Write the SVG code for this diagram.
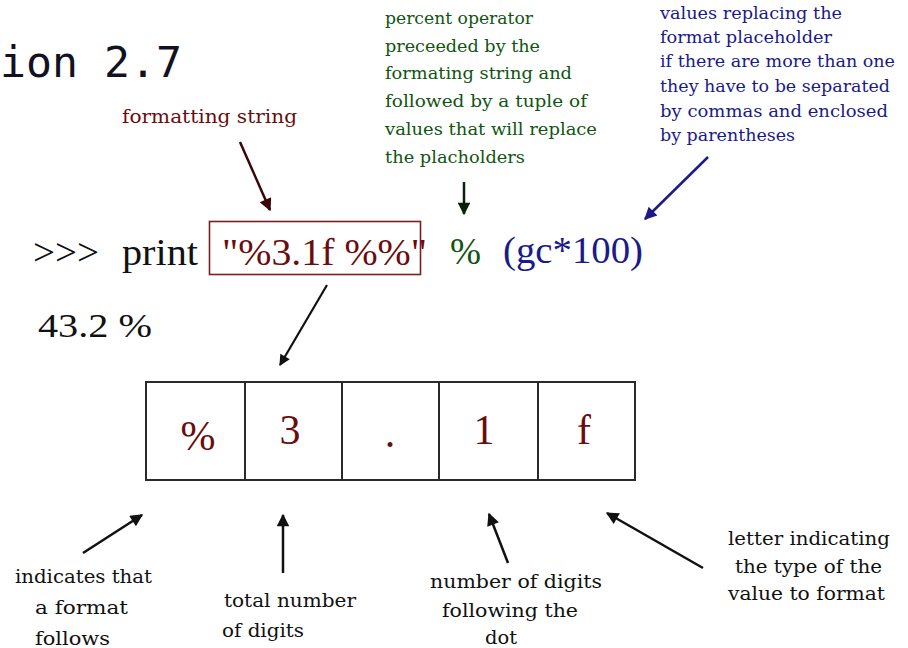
<svg xmlns="http://www.w3.org/2000/svg" width="908" height="648" viewBox="0 0 908 648">
<style>
  text { font-family: "Liberation Serif", "Times New Roman", serif; }
  .mono { font-family: "DejaVu Sans Mono", "Liberation Mono", monospace; font-size: 43px; fill: #111122; }
  .pal { font-family: "DejaVu Serif", "Liberation Serif", serif; }
  .red { fill: #6a0d0d; }
  .green text { fill: #105510; font-size: 17px; font-family: "DejaVu Serif", "Liberation Serif", serif; }
  .blue text { fill: #1a1a88; font-size: 16px; font-family: "DejaVu Serif", "Liberation Serif", serif; }
  .blk { fill: #111111; }
  .lbl text { font-size: 18px; fill: #111111; font-family: "DejaVu Serif", "Liberation Serif", serif; }
  .code { font-size: 38px; }
  .cell { font-size: 42px; fill: #6a0d0d; text-anchor: middle; }
  .ln { stroke-width: 2.5; fill: none; }
</style>
<defs>
  <marker id="ahBlack" viewBox="0 0 10 10" refX="9" refY="5" markerWidth="6" markerHeight="5" orient="auto" markerUnits="strokeWidth">
    <path d="M0,0 L10,5 L0,10 Z" fill="#111111"/>
  </marker>
  <marker id="ahRed" viewBox="0 0 10 10" refX="9" refY="5" markerWidth="6" markerHeight="5" orient="auto" markerUnits="strokeWidth">
    <path d="M0,0 L10,5 L0,10 Z" fill="#3a0505"/>
  </marker>
  <marker id="ahGreen" viewBox="0 0 10 10" refX="9" refY="5" markerWidth="6" markerHeight="5" orient="auto" markerUnits="strokeWidth">
    <path d="M0,0 L10,5 L0,10 Z" fill="#0a200a"/>
  </marker>
  <marker id="ahBlue" viewBox="0 0 10 10" refX="9" refY="5" markerWidth="6" markerHeight="5" orient="auto" markerUnits="strokeWidth">
    <path d="M0,0 L10,5 L0,10 Z" fill="#1a1a88"/>
  </marker>
</defs>
<rect width="908" height="648" fill="#ffffff"/>

<g id="version">
  <text class="mono" x="0" y="77" textLength="182" lengthAdjust="spacingAndGlyphs">ion 2.7</text>
</g>

<g id="label-formatting-string">
  <text class="red pal" x="122" y="123" font-size="18" textLength="175" lengthAdjust="spacingAndGlyphs">formatting string</text>
</g>

<g id="label-percent-operator" class="green">
  <text x="385" y="24" textLength="148" lengthAdjust="spacingAndGlyphs">percent operator</text>
  <text x="385" y="52" textLength="155" lengthAdjust="spacingAndGlyphs">preceeded by the</text>
  <text x="385" y="79" textLength="187" lengthAdjust="spacingAndGlyphs">formating string and</text>
  <text x="385" y="107" textLength="202" lengthAdjust="spacingAndGlyphs">followed by a tuple of</text>
  <text x="385" y="135" textLength="212" lengthAdjust="spacingAndGlyphs">values that will replace</text>
  <text x="385" y="163" textLength="140" lengthAdjust="spacingAndGlyphs">the placholders</text>
</g>

<g id="label-values" class="blue">
  <text x="660" y="19" textLength="182" lengthAdjust="spacingAndGlyphs">values replacing the</text>
  <text x="660" y="43" textLength="172" lengthAdjust="spacingAndGlyphs">format placeholder</text>
  <text x="660" y="67" textLength="235" lengthAdjust="spacingAndGlyphs">if there are more than one</text>
  <text x="660" y="92" textLength="230" lengthAdjust="spacingAndGlyphs">they have to be separated</text>
  <text x="660" y="117" textLength="228" lengthAdjust="spacingAndGlyphs">by commas and enclosed</text>
  <text x="660" y="141" textLength="135" lengthAdjust="spacingAndGlyphs">by parentheses</text>
</g>

<g id="code-prompt">
  <text class="code blk" x="33" y="265" textLength="66" lengthAdjust="spacingAndGlyphs">&gt;&gt;&gt;</text>
  <text class="code blk" x="122" y="265" textLength="76" lengthAdjust="spacingAndGlyphs">print</text>
</g>

<g id="format-string">
  <rect x="209.5" y="221.5" width="211" height="53" fill="none" stroke="#7a2020" stroke-width="1.6"/>
  <text class="code red" x="222" y="265" textLength="205" lengthAdjust="spacingAndGlyphs">"%3.1f %%"</text>
</g>

<g id="percent-operator">
  <text class="code" x="450" y="264" fill="#105510" textLength="31" lengthAdjust="spacingAndGlyphs">%</text>
</g>

<g id="values">
  <text class="code" x="503" y="263" fill="#1a1a88" textLength="140" lengthAdjust="spacingAndGlyphs">(gc*100)</text>
</g>

<g id="output">
  <text class="blk" x="38" y="337" font-size="34" textLength="114" lengthAdjust="spacingAndGlyphs">43.2 %</text>
</g>

<g id="table" stroke="#2a2a2a" stroke-width="2" fill="none">
  <rect x="146" y="382" width="489" height="98"/>
  <line x1="245" y1="382" x2="245" y2="480"/>
  <line x1="342" y1="382" x2="342" y2="480"/>
  <line x1="439" y1="382" x2="439" y2="480"/>
  <line x1="538" y1="382" x2="538" y2="480"/>
</g>
<g id="cell-percent"><text class="cell" x="198" y="450">%</text></g>
<g id="cell-3"><text class="cell" x="290" y="444">3</text></g>
<g id="cell-dot"><text class="cell" x="390" y="447">.</text></g>
<g id="cell-1"><text class="cell" x="484" y="444">1</text></g>
<g id="cell-f"><text class="cell" x="584" y="444">f</text></g>

<g id="label-indicates" class="lbl">
  <text x="15" y="583" textLength="137" lengthAdjust="spacingAndGlyphs">indicates that</text>
  <text x="35" y="614" textLength="93" lengthAdjust="spacingAndGlyphs">a  format</text>
  <text x="35" y="645" textLength="75" lengthAdjust="spacingAndGlyphs">follows</text>
</g>

<g id="label-total" class="lbl">
  <text x="224" y="607" textLength="132" lengthAdjust="spacingAndGlyphs">total number</text>
  <text x="222" y="637" textLength="82" lengthAdjust="spacingAndGlyphs">of digits</text>
</g>

<g id="label-following" class="lbl">
  <text x="430" y="588" textLength="172" lengthAdjust="spacingAndGlyphs">number of digits</text>
  <text x="442" y="617" textLength="136" lengthAdjust="spacingAndGlyphs">following the</text>
  <text x="485" y="644" textLength="32" lengthAdjust="spacingAndGlyphs">dot</text>
</g>

<g id="label-letter" class="lbl">
  <text x="728" y="545" textLength="162" lengthAdjust="spacingAndGlyphs">letter indicating</text>
  <text x="735" y="573" textLength="147" lengthAdjust="spacingAndGlyphs">the type of the</text>
  <text x="728" y="600" textLength="157" lengthAdjust="spacingAndGlyphs">value to format</text>
</g>

<g id="connectors" class="ln">
  <line x1="240" y1="142" x2="270" y2="210" stroke="#3a0505" stroke-width="2.5" marker-end="url(#ahRed)"/>
  <line x1="464" y1="182" x2="464" y2="214" stroke="#0a200a" stroke-width="2.5" marker-end="url(#ahGreen)"/>
  <line x1="708" y1="157" x2="645" y2="219" stroke="#1a1a88" stroke-width="2.5" marker-end="url(#ahBlue)"/>
  <line x1="327" y1="285" x2="280" y2="365" stroke="#111111" stroke-width="2.2" marker-end="url(#ahBlack)"/>
  <line x1="83" y1="553" x2="142" y2="515" stroke="#111111" stroke-width="2.5" marker-end="url(#ahBlack)"/>
  <line x1="283" y1="573" x2="283" y2="515" stroke="#111111" stroke-width="2.5" marker-end="url(#ahBlack)"/>
  <line x1="508" y1="563" x2="489" y2="514" stroke="#111111" stroke-width="2.5" marker-end="url(#ahBlack)"/>
  <line x1="703" y1="568" x2="607" y2="513" stroke="#111111" stroke-width="2.5" marker-end="url(#ahBlack)"/>
</g>
</svg>
